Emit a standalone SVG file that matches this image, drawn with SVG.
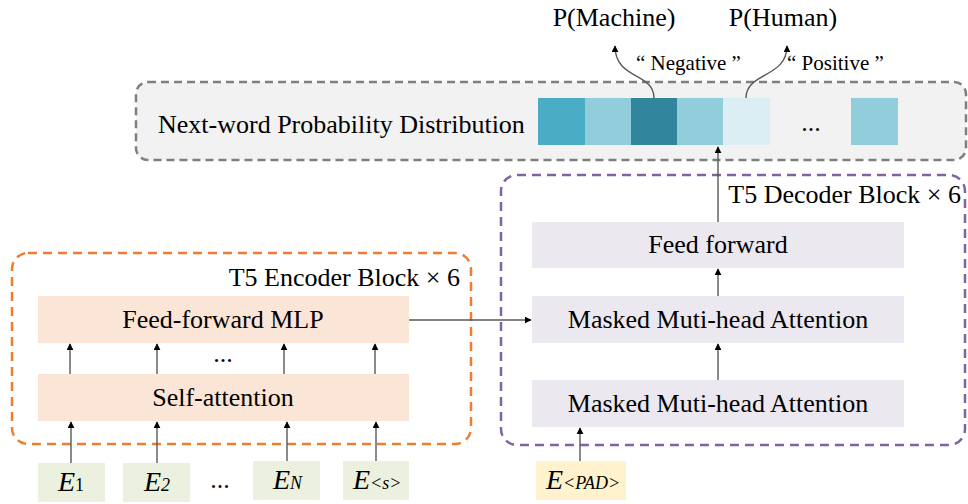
<svg xmlns="http://www.w3.org/2000/svg" width="968" height="504" viewBox="0 0 968 504">
<style>
text{font-family:"Liberation Serif","Times New Roman",serif;fill:#000}
.t{font-size:26px}
.q{font-size:21px}
.c{text-anchor:middle}
.r{text-anchor:end}
.ln{stroke:#595959;stroke-width:1.4;fill:none}
.enc{fill:#FBE5D6}
.dec{fill:#EBE8F0}
.emb{fill:#EBF1DE}
.E{font-size:28px;font-style:italic}
.s{font-size:18px}
</style>
<defs>
<marker id="ah" viewBox="0 0 10 10" refX="9" refY="5" markerWidth="7" markerHeight="7" markerUnits="userSpaceOnUse" orient="auto">
<path d="M0,0 L10,5 L0,10 z" fill="#000"/>
</marker>
</defs>

<g id="distribution">
<rect x="136" y="82" width="830" height="78" rx="12" fill="#F2F2F2" stroke="#7F7F7F" stroke-width="2.5" stroke-dasharray="8,5"/>
<text class="t" x="158" y="133">Next-word Probability Distribution</text>
<rect x="538" y="98" width="47" height="47" fill="#4BACC6"/>
<rect x="585" y="98" width="46" height="47" fill="#92CDDC"/>
<rect x="631" y="98" width="46" height="47" fill="#31859C"/>
<rect x="677" y="98" width="46" height="47" fill="#92CDDC"/>
<rect x="723" y="98" width="47" height="47" fill="#DAEEF3"/>
<text class="t c" x="811" y="131">...</text>
<rect x="851" y="98" width="47" height="47" fill="#92CDDC"/>
</g>

<g id="outputs">
<text class="t c" x="614" y="26">P(Machine)</text>
<text class="t c" x="783" y="26">P(Human)</text>
<text class="q" x="636" y="70">“ Negative ”</text>
<text class="q" x="787" y="70">“ Positive ”</text>
</g>

<g id="encoder">
<rect x="12" y="253" width="459" height="191" rx="16" fill="none" stroke="#ED7D31" stroke-width="2.5" stroke-dasharray="9,6"/>
<text class="t r" x="460" y="286">T5 Encoder Block × 6</text>
<g id="enc-ffn">
<rect class="enc" x="38" y="296" width="371" height="47"/>
<text class="t c" x="223" y="328">Feed-forward MLP</text>
</g>
<g id="enc-attn">
<rect class="enc" x="38" y="374" width="371" height="47"/>
<text class="t c" x="223" y="406">Self-attention</text>
</g>
<text class="t c" x="223" y="362">...</text>
</g>

<g id="decoder">
<rect x="501" y="175" width="464" height="270" rx="16" fill="none" stroke="#8064A2" stroke-width="2.5" stroke-dasharray="9,6"/>
<text class="t r" x="961" y="203">T5 Decoder Block × 6</text>
<g id="dec-ffn">
<rect class="dec" x="532" y="222" width="372" height="46"/>
<text class="t c" x="718" y="253">Feed forward</text>
</g>
<g id="dec-attn2">
<rect class="dec" x="532" y="296" width="372" height="47"/>
<text class="t c" x="718" y="328">Masked Muti-head Attention</text>
</g>
<g id="dec-attn1">
<rect class="dec" x="532" y="380" width="372" height="47"/>
<text class="t c" x="718" y="412">Masked Muti-head Attention</text>
</g>
</g>

<g id="e1"><rect class="emb" x="38" y="463" width="67" height="39"/><text x="58" y="491"><tspan class="E">E</tspan><tspan class="s">1</tspan></text></g>
<g id="e2"><rect class="emb" x="123" y="463" width="67" height="39"/><text x="144" y="491"><tspan class="E">E</tspan><tspan class="s" font-style="italic">2</tspan></text></g>
<text class="t c" x="220" y="488">...</text>
<g id="en"><rect class="emb" x="253" y="461" width="67" height="39"/><text x="273" y="489"><tspan class="E">E</tspan><tspan class="s" font-style="italic">N</tspan></text></g>
<g id="es"><rect class="emb" x="343" y="461" width="66" height="39"/><text x="353" y="489"><tspan class="E">E</tspan><tspan class="s" font-style="italic">&lt;s&gt;</tspan></text></g>
<g id="epad"><rect x="536" y="461" width="90" height="39" fill="#FFF2CC"/><text x="546" y="489"><tspan class="E">E</tspan><tspan class="s" font-style="italic">&lt;PAD&gt;</tspan></text></g>

<g id="connectors">
<path class="ln" d="M71,463 V422" marker-end="url(#ah)"/>
<path class="ln" d="M157,463 V422" marker-end="url(#ah)"/>
<path class="ln" d="M287,461 V422" marker-end="url(#ah)"/>
<path class="ln" d="M376,461 V422" marker-end="url(#ah)"/>
<path class="ln" d="M70,374 V344" marker-end="url(#ah)"/>
<path class="ln" d="M157,374 V344" marker-end="url(#ah)"/>
<path class="ln" d="M284,374 V344" marker-end="url(#ah)"/>
<path class="ln" d="M375,374 V344" marker-end="url(#ah)"/>
<path class="ln" d="M409,320 H531" marker-end="url(#ah)"/>
<path class="ln" d="M580,461 V428" marker-end="url(#ah)"/>
<path class="ln" d="M718,380 V344" marker-end="url(#ah)"/>
<path class="ln" d="M718,296 V269" marker-end="url(#ah)"/>
<path class="ln" d="M718,222 V147" marker-end="url(#ah)"/>
<path class="ln" d="M654,98 C654,72 615,80 615,46" stroke="#000" marker-end="url(#ah)"/>
<path class="ln" d="M746,98 C746,72 787,78 787,46" stroke="#000" marker-end="url(#ah)"/>
</g>
</svg>
